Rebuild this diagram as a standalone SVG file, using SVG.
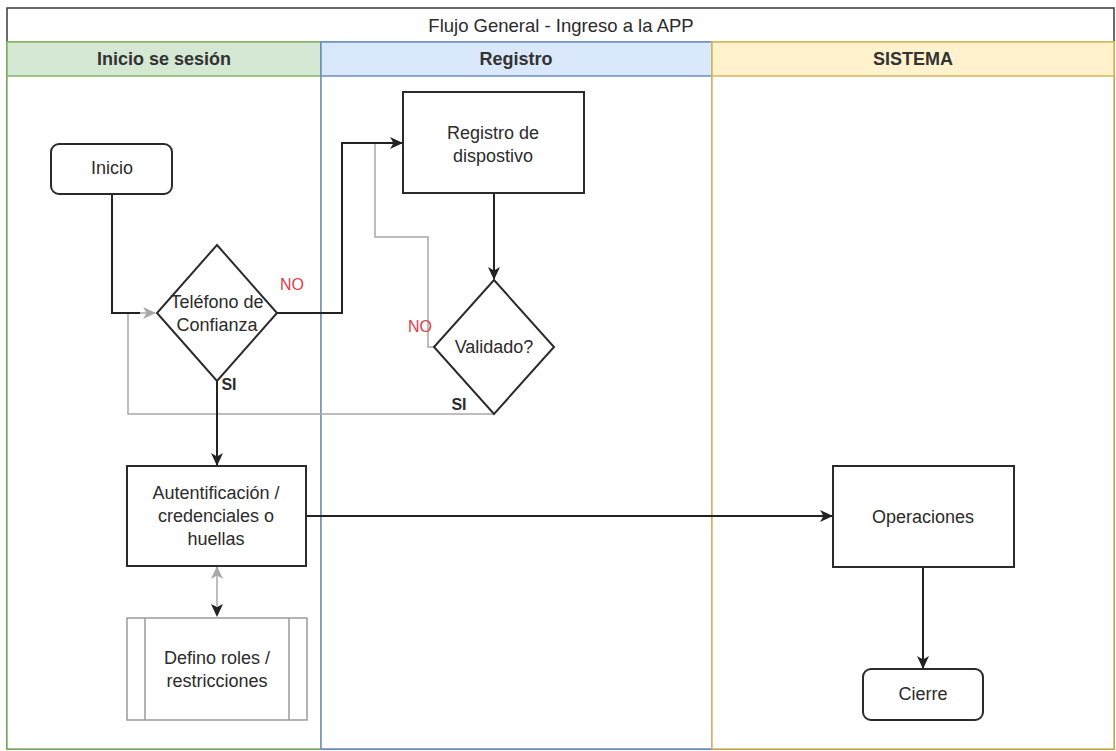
<svg xmlns="http://www.w3.org/2000/svg" width="1116" height="751" viewBox="0 0 1116 751">
  <style>
    text { font-family: "Liberation Sans", Arial, sans-serif; font-size: 18px; fill: #2b2b2b; text-anchor: middle; dominant-baseline: central; }
    .title { font-size: 18.5px; }
    .hdr { font-weight: bold; fill: #333333; }
    .node { fill: #ffffff; stroke: #2b2b2b; stroke-width: 2; }
    .sub { fill: #ffffff; stroke: #9a9a9a; stroke-width: 1.5; }
    .edge { fill: none; stroke: #222222; stroke-width: 2; }
    .soft { fill: none; stroke: #a8a8a8; stroke-width: 1.5; }
    .no { fill: #e0404a; font-size: 16px; }
    .si { font-weight: bold; font-size: 16px; }
  </style>
  <defs>
    <marker id="arr" markerWidth="13" markerHeight="12" refX="12" refY="6" orient="auto" markerUnits="userSpaceOnUse" viewBox="0 0 13 12">
      <path d="M0,0 L13,6 L0,12 L3.5,6 Z" fill="#222222"/>
    </marker>
    <marker id="arrSoft" markerWidth="13" markerHeight="12" refX="12" refY="6" orient="auto-start-reverse" markerUnits="userSpaceOnUse" viewBox="0 0 13 12">
      <path d="M0,0 L13,6 L0,12 L3.5,6 Z" fill="#a8a8a8"/>
    </marker>
  </defs>

  <rect width="1116" height="751" fill="#ffffff"/>

  <!-- pool with title -->
  <g id="pool">
    <rect x="7" y="8" width="1107" height="741" fill="#ffffff" stroke="#3a3a3a" stroke-width="1.5"/>
    <text class="title" x="561" y="25">Flujo General - Ingreso a la APP</text>
  </g>

  <!-- lanes -->
  <g id="lane-inicio">
    <rect x="7" y="42" width="314" height="707" fill="#ffffff" stroke="#82b366" stroke-width="1.5"/>
    <rect x="7" y="42" width="314" height="34" fill="#d5e8d4" stroke="#82b366" stroke-width="1.5"/>
    <text class="hdr" x="164" y="59">Inicio se sesión</text>
  </g>
  <g id="lane-registro">
    <rect x="321" y="42" width="391" height="707" fill="#ffffff" stroke="#6c8ebf" stroke-width="1.5"/>
    <rect x="321" y="42" width="391" height="34" fill="#dae8fc" stroke="#6c8ebf" stroke-width="1.5"/>
    <text class="hdr" x="516" y="59">Registro</text>
  </g>
  <g id="lane-sistema">
    <rect x="712" y="42" width="402" height="707" fill="#ffffff" stroke="#d6b656" stroke-width="1.5"/>
    <rect x="712" y="42" width="402" height="34" fill="#fff2cc" stroke="#d6b656" stroke-width="1.5"/>
    <text class="hdr" x="913" y="59">SISTEMA</text>
  </g>

  <!-- connectors -->
  <g id="connectors">
    <polyline class="soft" points="494,414 128,414 128,313 155,313" marker-end="url(#arrSoft)"/>
    <polyline class="soft" points="434,347 428,347 428,237 375,237 375,143 392,143"/>
    <polyline class="edge" points="112,194 112,313 140,313"/>
    <polyline class="edge" points="277,313 342,313 342,143 402,143" marker-end="url(#arr)"/>
    <line class="edge" x1="494" y1="193" x2="494" y2="279" marker-end="url(#arr)"/>
    <line class="edge" x1="217" y1="381" x2="217" y2="465" marker-end="url(#arr)"/>
    <line class="edge" x1="306" y1="516" x2="832" y2="516" marker-end="url(#arr)"/>
    <line class="soft" x1="217" y1="567" x2="217" y2="606" marker-start="url(#arrSoft)"/>
    <path d="M211,604 L217,617 L223,604 L217,607 Z" fill="#222222"/>
    <line class="edge" x1="923" y1="567" x2="923" y2="668" marker-end="url(#arr)"/>
    <text class="no" x="292" y="284">NO</text>
    <text class="si" x="229" y="384">SI</text>
    <text class="no" x="420" y="326">NO</text>
    <text class="si" x="459" y="404">SI</text>
  </g>

  <!-- nodes -->
  <g id="inicio">
    <rect class="node" x="51" y="144" width="121" height="50" rx="8"/>
    <text x="112" y="168">Inicio</text>
  </g>
  <g id="telefono">
    <polygon class="node" points="217,245 277,313 217,381 157,313"/>
    <text x="217" y="302">Teléfono de</text>
    <text x="217" y="325">Confianza</text>
  </g>
  <g id="registro">
    <rect class="node" x="403" y="92" width="181" height="101"/>
    <text x="493" y="133">Registro de</text>
    <text x="493" y="156">dispostivo</text>
  </g>
  <g id="validado">
    <polygon class="node" points="494,280 554,347 494,414 434,347"/>
    <text x="494" y="347">Validado?</text>
  </g>
  <g id="autentificacion">
    <rect class="node" x="127" y="466" width="179" height="100"/>
    <text x="216" y="493">Autentificación /</text>
    <text x="216" y="516">credenciales o</text>
    <text x="216" y="539">huellas</text>
  </g>
  <g id="roles">
    <rect class="sub" x="127" y="618" width="180" height="102"/>
    <line class="sub" x1="145" y1="618" x2="145" y2="720"/>
    <line class="sub" x1="289" y1="618" x2="289" y2="720"/>
    <text x="217" y="658">Defino roles /</text>
    <text x="217" y="681">restricciones</text>
  </g>
  <g id="operaciones">
    <rect class="node" x="833" y="466" width="181" height="101"/>
    <text x="923" y="517">Operaciones</text>
  </g>
  <g id="cierre">
    <rect class="node" x="863" y="669" width="120" height="51" rx="8"/>
    <text x="923" y="694">Cierre</text>
  </g>
</svg>
